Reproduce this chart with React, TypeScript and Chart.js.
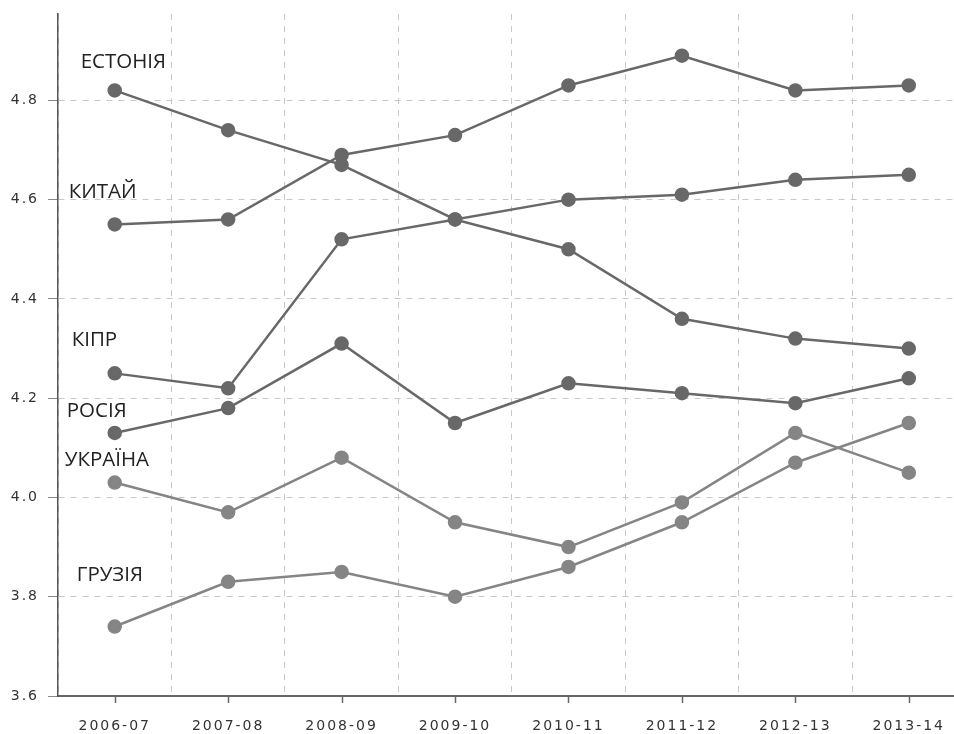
import React, { useEffect, useRef } from 'react';
import { Chart, registerables } from 'chart.js';

Chart.register(...registerables);

const categories = ['2006-07', '2007-08', '2008-09', '2009-10', '2010-11', '2011-12', '2012-13', '2013-14'];
const estonia = [4.82, 4.74, 4.67, 4.56, 4.6, 4.61, 4.64, 4.65];
const china = [4.55, 4.56, 4.69, 4.73, 4.83, 4.89, 4.82, 4.83];
const cyprus = [4.25, 4.22, 4.52, 4.56, 4.5, 4.36, 4.32, 4.3];
const russia = [4.13, 4.18, 4.31, 4.15, 4.23, 4.21, 4.19, 4.24];
const ukraine = [4.03, 3.97, 4.08, 3.95, 3.9, 3.99, 4.13, 4.05];
const georgia = [3.74, 3.83, 3.85, 3.8, 3.86, 3.95, 4.07, 4.15];
const seriesNames = ['ЕСТОНІЯ', 'КИТАЙ', 'КІПР', 'РОСІЯ', 'УКРАЇНА', 'ГРУЗІЯ'];
const yTickValues = [3.6, 3.8, 4.0, 4.2, 4.4, 4.6, 4.8];
const yMin = 3.6;
const yMax = 4.974;

// label placement relative to each series' first point (px)
const labelDx = [-34, -46, -43, -48, -50, -38];
const labelDy = [-28, -32, -33, -22, -22, -51];

const DARK = '#686868';
const LIGHT = '#858585';
const LETTER_SPACING = '2px';

const spacingPlugin = {
  id: 'spacing',
  beforeLayout(chart: any) {
    chart.ctx.letterSpacing = LETTER_SPACING;
  },
  beforeDraw(chart: any) {
    chart.ctx.letterSpacing = LETTER_SPACING;
  },
};

const tickMarksPlugin = {
  id: 'xTickMarks',
  afterDraw(chart: any) {
    const ctx = chart.ctx;
    const xs = chart.scales.x;
    const bottom = chart.chartArea.bottom;
    ctx.save();
    ctx.setLineDash([]);
    ctx.strokeStyle = '#666';
    ctx.lineWidth = 1.5;
    categories.forEach((_, i) => {
      const x = Math.round(xs.getPixelForValue(i)) + 0.5;
      ctx.beginPath();
      ctx.moveTo(x, bottom);
      ctx.lineTo(x, bottom + 7);
      ctx.stroke();
    });
    ctx.restore();
  },
};

const seriesLabelPlugin = {
  id: 'seriesLabels',
  afterDatasetsDraw(chart: any) {
    const ctx = chart.ctx;
    ctx.save();
    ctx.letterSpacing = '0px';
    ctx.font = '20.5px "Open Sans", sans-serif';
    ctx.fillStyle = '#222';
    ctx.textAlign = 'left';
    ctx.textBaseline = 'middle';
    seriesNames.forEach((name, i) => {
      const meta = chart.getDatasetMeta(i);
      const p = meta.data[0];
      if (!p) return;
      ctx.fillText(name, p.x + labelDx[i], p.y + labelDy[i]);
    });
    ctx.restore();
  },
};

export default function App() {
  const canvasRef = useRef<HTMLCanvasElement | null>(null);

  useEffect(() => {
    if (!canvasRef.current) return;
    const all = [estonia, china, cyprus, russia, ukraine, georgia];
    const colors = [DARK, DARK, DARK, DARK, LIGHT, LIGHT];
    const chart = new Chart(canvasRef.current, {
      type: 'line',
      data: {
        labels: categories,
        datasets: all.map((d, i) => ({
          label: seriesNames[i],
          data: d,
          borderColor: colors[i],
          backgroundColor: colors[i],
          pointBackgroundColor: colors[i],
          pointBorderColor: colors[i],
          borderWidth: 2.5,
          pointRadius: 6,
          pointHoverRadius: 6,
          tension: 0,
          fill: false,
        })),
      },
      options: {
        responsive: true,
        maintainAspectRatio: false,
        animation: false,
        layout: { padding: { top: 14, left: 0, right: 0, bottom: 0 } },
        plugins: {
          legend: { display: false },
          tooltip: { enabled: false },
        },
        scales: {
          x: {
            type: 'category',
            offset: true,
            grid: {
              offset: true,
              drawTicks: false,
              color: '#c8c8c8',
              lineWidth: 1,
            },
            border: { display: true, color: '#666', width: 2, dash: [6, 6] },
            ticks: {
              color: '#333',
              font: { family: '"DejaVu Sans", Verdana, sans-serif', size: 14 },
              padding: 22,
              maxRotation: 0,
              autoSkip: false,
            },
            afterFit(scale: any) {
              scale.height = 38;
            },
          },
          y: {
            type: 'linear',
            min: yMin,
            max: yMax,
            afterBuildTicks(scale: any) {
              scale.ticks = yTickValues.map((v) => ({ value: v }));
            },
            grid: {
              color: '#c8c8c8',
              lineWidth: 1,
              tickLength: 10,
              tickColor: '#888',
              tickBorderDash: [],
            },
            border: { display: true, color: '#555', width: 1.5, dash: [6, 6] },
            ticks: {
              color: '#333',
              font: { family: '"DejaVu Sans", Verdana, sans-serif', size: 14 },
              padding: 9,
              callback: (v: any) => Number(v).toFixed(1),
            },
            afterFit(scale: any) {
              scale.width = 58;
              scale.paddingTop = 0;
              scale.paddingBottom = 0;
            },
          },
        },
      },
      plugins: [spacingPlugin, tickMarksPlugin, seriesLabelPlugin],
    } as any);
    return () => chart.destroy();
  }, []);

  return (
    <div style={{ position: 'fixed', left: 0, top: 0, width: 954, height: 734, overflow: 'hidden', background: '#fff' }}>
      <div style={{ width: 974, height: 734, position: 'relative' }}>
        <canvas ref={canvasRef} />
      </div>
    </div>
  );
}
